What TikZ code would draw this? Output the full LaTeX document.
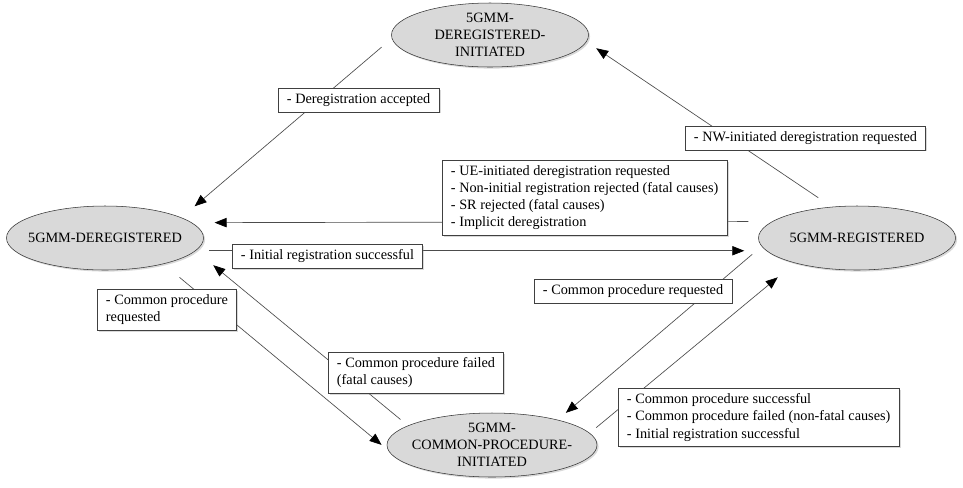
\documentclass[tikz,border=0pt]{standalone}
\usepackage{fontspec}
\setmainfont{Liberation Serif}
\usetikzlibrary{arrows.meta,positioning,shapes.geometric,shadows}

\begin{document}
\begin{tikzpicture}[
		x=0.75pt, y=-0.75pt,
		font=\fontsize{10.7}{12.8}\selectfont,
		state/.style={
			ellipse, draw=black!80, fill=black!15, minimum width=147.75pt, minimum height=48pt, inner sep=0pt,
			drop shadow={shadow xshift=1.2pt, shadow yshift=-1.2pt, opacity=.3}
		},
		cond/.style={
			draw=black!75, fill=white, align=left, anchor=west, inner xsep=6.5pt, inner ysep=4pt,
			drop shadow={shadow xshift=1.2pt, shadow yshift=-1.2pt, opacity=.3}
		},
		trans/.style={
			draw=black!70, line width=.5pt
		},
		>={Triangle[length=9pt,width=7pt,color=black]},
		]
		\useasboundingbox (0,0) rectangle (963,487);
		
		% States
		\node [state, label={[align=center]center:{5GMM-\\DEREGISTERED-\\INITIATED}}] (dereginit) at (490,35) {};
		\node [state, label={center:5GMM-DEREGISTERED}] (dereg) at (105,238) {};
		\node [state, label={center:5GMM-REGISTERED}] (reg) at (857,238) {};
		\node [state, minimum width=157.5pt, label={[align=center]center:{5GMM-\\COMMON-PROCEDURE-\\INITIATED}}] (common) at (492,445) {};
		
		% Transitions
		\draw [trans, ->, shorten <=10.1pt, shorten >=13pt] (dereginit.182.5) -- (dereg.15.6);
		\draw [trans, ->, shorten <=12.2pt, shorten >=8.7pt] (reg.129.6) -- (dereginit.356.1);
		\draw [trans, ->, shorten <=17.8pt, shorten >=17pt] (reg.169.4) -- (dereg.10.6);
		\draw [trans, ->, shorten <=10.3pt, shorten >=16.5pt] (dereg.352.5) -- (reg.188.2);
		\draw [trans, ->, shorten <=15.7pt, shorten >=6.5pt] (dereg.336.5) -- (common.183.1);
		\draw [trans, ->, shorten <=7.2pt, shorten >=17pt] (common.167.4) -- (dereg.352.1);
		\draw [trans, ->, shorten <=9.3pt, shorten >=8pt] (reg.185.5) -- (common.21.2);
		\draw [trans, ->, shorten <=6.3pt, shorten >=16.7pt] (common.7.5) -- (reg.202);
		
		% Conditions
		\node [cond] (accepted) at (278,100) {- Deregistration accepted};
		\node [cond] (nwdereg) at (685,138) {- NW-initiated deregistration requested};
		\node [cond] (uedereg) at (442,197.5) {- UE-initiated deregistration requested\\- Non-initial registration rejected (fatal causes)\\- SR rejected (fatal causes)\\- Implicit deregistration};
		\node [cond] (initreg) at (232,256.5) {- Initial registration successful};
		\node [cond] (cpreq1) at (97,310) {- Common procedure\\requested};
		\node [cond] (cpfail) at (328,372.5) {- Common procedure failed\\(fatal causes)};
		\node [cond] (cpreq2) at (534,291) {- Common procedure requested};
		\node [cond] (cpsucc) at (618,417.5) {- Common procedure successful\\- Common procedure failed (non-fatal causes)\\- Initial registration successful};
		
	\end{tikzpicture}
\end{document}
